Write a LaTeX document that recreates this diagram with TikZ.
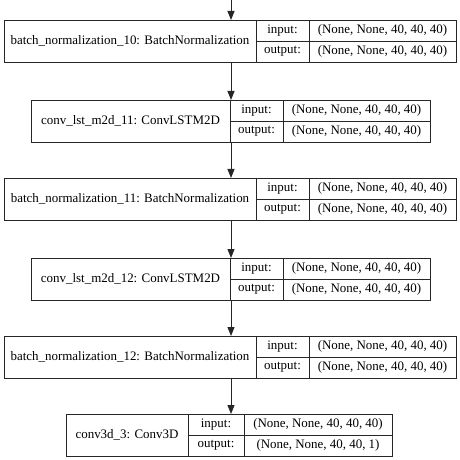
\documentclass[tikz,border=0pt]{standalone}
\usepackage{fontspec}
\setmainfont{Liberation Serif}
\usetikzlibrary{arrows.meta,positioning}
\tikzset{
cell/.style={
  draw=black!85,
  line width=0.9bp,
  inner sep=0pt,
  outer sep=0pt,
  font=\fontsize{13}{15}\selectfont,
  align=center
  },
namecell/.style={cell, minimum height=42bp},
iocell/.style={cell, minimum height=21bp},
link/.style={-{Triangle[length=9bp,width=7bp]}, line width=0.9bp, draw=black!85}
}
% one layer: name, label, left x, centre y, widths of the three columns, shapes
\newcommand{\layerbox}[9]{%
  \node[namecell, minimum width=#5, anchor=west] (#1) at (#3,#4) {#2};
  \node[iocell, minimum width=#6, anchor=north west] (#1-in) at (#1.north east) {input:};
  \node[iocell, minimum width=#6, anchor=north west] (#1-out) at (#1-in.south west) {output:};
  \node[iocell, minimum width=#7, anchor=north west] (#1-inshape) at (#1-in.north east) {#8};
  \node[iocell, minimum width=#7, anchor=north west] (#1-outshape) at (#1-out.north east) {#9};
}

\begin{document}
\begin{tikzpicture}[x=1bp,y=-1bp]
            \useasboundingbox (0,0) rectangle (460,460);
            \coordinate (spine) at (231,0);
            \layerbox{bn10}{batch\_normalization\_10: BatchNormalization}{4}{41}{252bp}{53bp}{147bp}{(None, None, 40, 40, 40)}{(None, None, 40, 40, 40)}
            \layerbox{cl11}{conv\_lst\_m2d\_11: ConvLSTM2D}{31}{121}{199bp}{53bp}{147bp}{(None, None, 40, 40, 40)}{(None, None, 40, 40, 40)}
            \layerbox{bn11}{batch\_normalization\_11: BatchNormalization}{4}{199}{252bp}{53bp}{147bp}{(None, None, 40, 40, 40)}{(None, None, 40, 40, 40)}
            \layerbox{cl12}{conv\_lst\_m2d\_12: ConvLSTM2D}{31}{279}{199bp}{53bp}{147bp}{(None, None, 40, 40, 40)}{(None, None, 40, 40, 40)}
            \layerbox{bn12}{batch\_normalization\_12: BatchNormalization}{4}{357}{252bp}{53bp}{147bp}{(None, None, 40, 40, 40)}{(None, None, 40, 40, 40)}
            \layerbox{c3d}{conv3d\_3: Conv3D}{66}{435}{122bp}{56bp}{148bp}{(None, None, 40, 40, 40)}{(None, None, 40, 40, 1)}
            % arrows down the spine
            \draw[link] (spine) -- (bn10.north -| spine);
            \draw[link] (bn10.south -| spine) -- (cl11.north -| spine);
            \draw[link] (cl11.south -| spine) -- (bn11.north -| spine);
            \draw[link] (bn11.south -| spine) -- (cl12.north -| spine);
            \draw[link] (cl12.south -| spine) -- (bn12.north -| spine);
            \draw[link] (bn12.south -| spine) -- (c3d.north -| spine);
        \end{tikzpicture}
\end{document}
